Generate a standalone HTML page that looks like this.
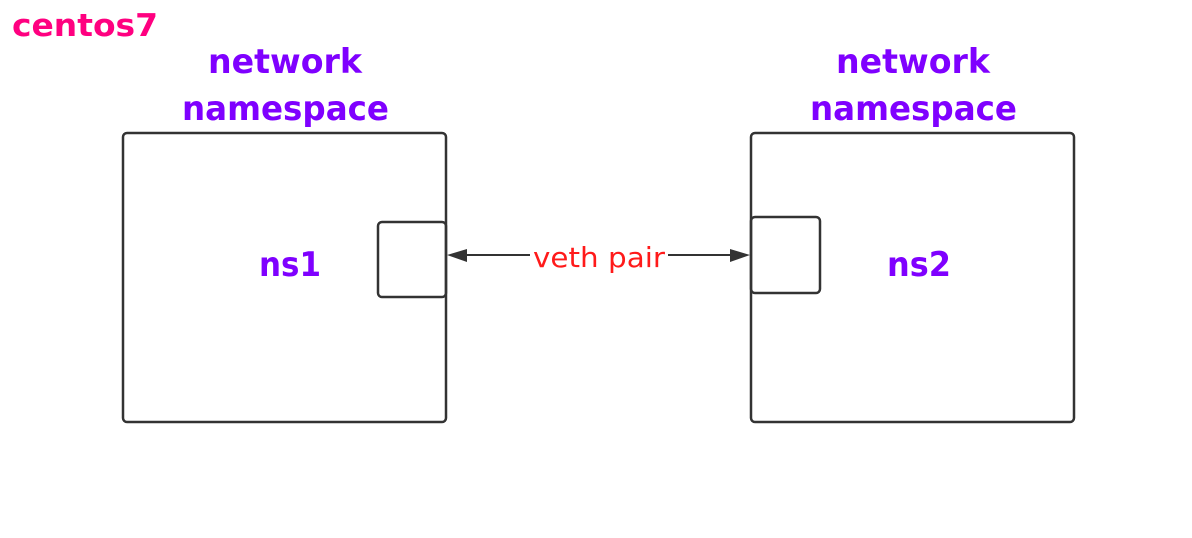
<!DOCTYPE html>
<html><head><style>body{margin:0;background:#fff}svg{display:block}</style></head><body>
<svg width="1192" height="538" xmlns="http://www.w3.org/2000/svg" font-family="DejaVu Sans, sans-serif">
<rect width="1192" height="538" fill="#fff"/>
<text x="12" y="36" font-size="31" font-weight="bold" fill="#ff0080" textLength="146" lengthAdjust="spacingAndGlyphs">centos7</text>
<g font-size="34" font-weight="bold" fill="#7f00ff">
<text x="208" y="73" textLength="154" lengthAdjust="spacingAndGlyphs">network</text>
<text x="182" y="120" textLength="207" lengthAdjust="spacingAndGlyphs">namespace</text>
<text x="836" y="73" textLength="154" lengthAdjust="spacingAndGlyphs">network</text>
<text x="810" y="120" textLength="207" lengthAdjust="spacingAndGlyphs">namespace</text>
<text x="259" y="276" textLength="62" lengthAdjust="spacingAndGlyphs">ns1</text>
<text x="887" y="276" textLength="64" lengthAdjust="spacingAndGlyphs">ns2</text>
</g>
<g fill="none" stroke="#333" stroke-width="2.5">
<rect x="123" y="133" width="323" height="289" rx="4"/>
<rect x="751" y="133" width="323" height="289" rx="4"/>
<rect x="378" y="222" width="68" height="75" rx="4"/>
<rect x="751" y="217" width="69" height="76" rx="4"/>
<line x1="460" y1="255" x2="530" y2="255" stroke-width="2"/>
<line x1="668" y1="255" x2="737" y2="255" stroke-width="2"/>
</g>
<polygon points="447,255 467,249 467,262" fill="#333"/>
<polygon points="750,255 730,249 730,262" fill="#333"/>
<text x="533" y="267" font-size="28" fill="#ff1a1a" textLength="132" lengthAdjust="spacingAndGlyphs">veth pair</text>
</svg>
</body></html>
